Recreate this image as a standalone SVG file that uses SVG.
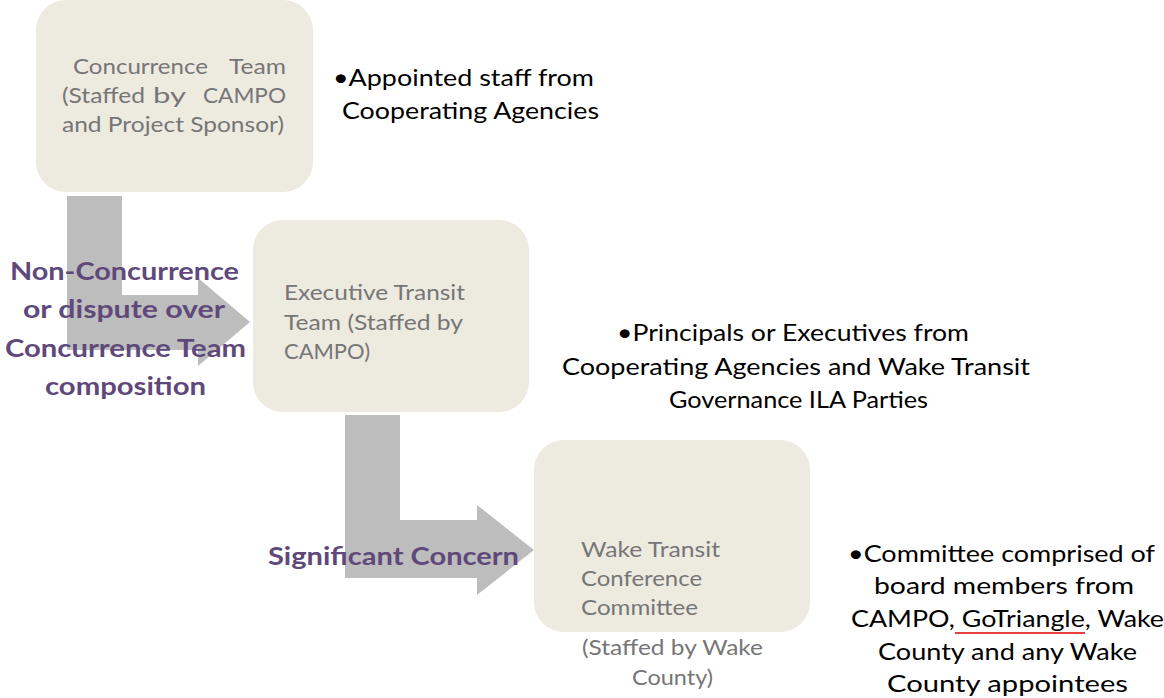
<svg xmlns="http://www.w3.org/2000/svg" width="1164" height="698" viewBox="0 0 1164 698">
<style>
.box{fill:#EDEAE0}
.arrow{fill:#BDBDBD}
.g{font-family:Lato,"Liberation Sans",sans-serif;font-size:21px;fill:#767676}
.b{font-family:Lato,"Liberation Sans",sans-serif;font-size:23.5px;fill:#000}
.p{font-family:Lato,"Liberation Sans",sans-serif;font-size:25px;font-weight:bold;fill:#5F497A}
</style>
<rect width="1164" height="698" fill="#fff"/>
<g id="connectors">
<path class="arrow" d="M67,196 H122 V295 H198 V278 L250,322 L198,366 V350 H67 Z"/>
<path class="arrow" d="M345,415 H400 V520 H477 V505 L534,550 L477,595 V578 H345 Z"/>
<g id="label-nonconcurrence">
<text class="p" x="10" y="280" textLength="229" lengthAdjust="spacingAndGlyphs">Non-Concurrence</text>
<text class="p" x="23" y="318" textLength="202" lengthAdjust="spacingAndGlyphs">or dispute over</text>
<text class="p" x="5" y="357" textLength="241" lengthAdjust="spacingAndGlyphs">Concurrence Team</text>
<text class="p" x="45" y="395" textLength="161" lengthAdjust="spacingAndGlyphs">composition</text>
</g>
<g id="label-significant">
<text class="p" x="268" y="565" textLength="251" lengthAdjust="spacingAndGlyphs">Significant Concern</text>
</g>
</g>
<g id="concurrence-team">
<rect class="box" x="36" y="0" width="277" height="192" rx="30"/>
<text class="g" y="74"><tspan x="73" textLength="135" lengthAdjust="spacingAndGlyphs">Concurrence</tspan><tspan x="229" textLength="57" lengthAdjust="spacingAndGlyphs">Team</tspan></text>
<text class="g" y="103"><tspan x="62" textLength="83" lengthAdjust="spacingAndGlyphs">(Staffed</tspan><tspan x="153" textLength="33" lengthAdjust="spacingAndGlyphs">by</tspan><tspan x="203" textLength="83" lengthAdjust="spacingAndGlyphs">CAMPO</tspan></text>
<text class="g" x="62" y="132" textLength="222" lengthAdjust="spacingAndGlyphs">and Project Sponsor)</text>
</g>
<g id="concurrence-desc">
<text class="b" x="333" y="86" textLength="261" lengthAdjust="spacingAndGlyphs">•Appointed staff from</text>
<text class="b" x="342" y="119" textLength="257" lengthAdjust="spacingAndGlyphs">Cooperating Agencies</text>
</g>
<g id="executive-transit-team">
<rect class="box" x="253" y="220" width="276" height="192" rx="30"/>
<text class="g" x="284" y="300" textLength="181" lengthAdjust="spacingAndGlyphs">Executive Transit</text>
<text class="g" x="284" y="330" textLength="179" lengthAdjust="spacingAndGlyphs">Team (Staffed by</text>
<text class="g" x="284" y="359" textLength="86" lengthAdjust="spacingAndGlyphs">CAMPO)</text>
</g>
<g id="executive-desc">
<text class="b" x="617" y="341" textLength="352" lengthAdjust="spacingAndGlyphs">•Principals or Executives from</text>
<text class="b" x="562" y="375" textLength="468" lengthAdjust="spacingAndGlyphs">Cooperating Agencies and Wake Transit</text>
<text class="b" x="669" y="408" textLength="259" lengthAdjust="spacingAndGlyphs">Governance ILA Parties</text>
</g>
<g id="conference-committee">
<rect class="box" x="534" y="440" width="276" height="192" rx="30"/>
<text class="g" x="581" y="557" textLength="139" lengthAdjust="spacingAndGlyphs">Wake Transit</text>
<text class="g" x="581" y="586" textLength="121" lengthAdjust="spacingAndGlyphs">Conference</text>
<text class="g" x="581" y="615" textLength="117" lengthAdjust="spacingAndGlyphs">Committee</text>
<text class="g" x="582" y="655" textLength="181" lengthAdjust="spacingAndGlyphs">(Staffed by Wake</text>
<text class="g" x="632" y="685" textLength="81" lengthAdjust="spacingAndGlyphs">County)</text>
</g>
<g id="committee-desc">
<text class="b" x="848" y="562" textLength="307" lengthAdjust="spacingAndGlyphs">•Committee comprised of</text>
<text class="b" x="874" y="594" textLength="260" lengthAdjust="spacingAndGlyphs">board members from</text>
<text class="b" x="851" y="627" textLength="313" lengthAdjust="spacingAndGlyphs">CAMPO, GoTriangle, Wake</text>
<text class="b" x="878" y="660" textLength="259" lengthAdjust="spacingAndGlyphs">County and any Wake</text>
<text class="b" x="887" y="692" textLength="241" lengthAdjust="spacingAndGlyphs">County appointees</text>
<line x1="955" y1="633" x2="1085" y2="633" stroke="#E00000" stroke-width="1.5"/>
</g>
</svg>
